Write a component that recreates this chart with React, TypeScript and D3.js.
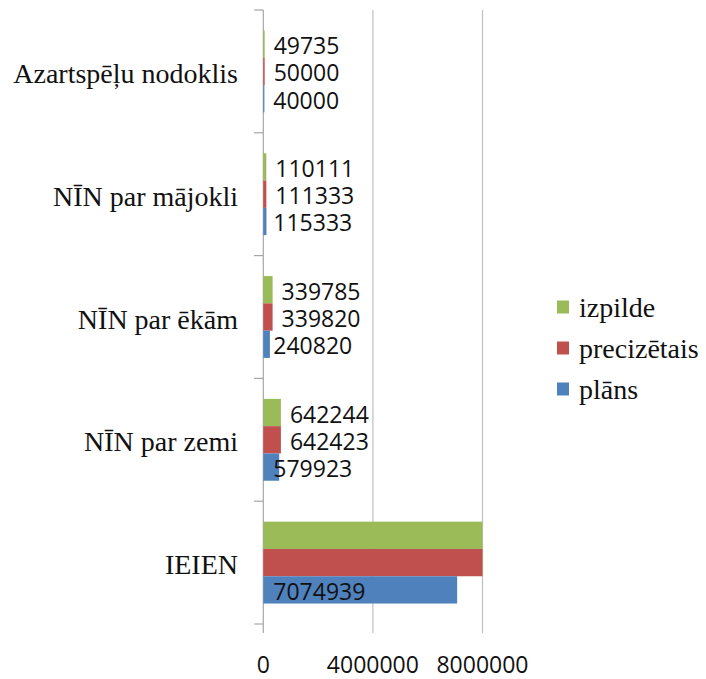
import React from "react";
import * as d3 from "d3";

const categories = ["Azartspēļu nodoklis", "NĪN par mājokli", "NĪN par ēkām", "NĪN par zemi", "IEIEN"];
const seriesNames = ["izpilde", "precizētais", "plāns"];
const izpilde = [49735, 110111, 339785, 642244, 8150000];
const precizetais = [50000, 111333, 339820, 642423, 8200000];
const plans = [40000, 115333, 240820, 579923, 7074939];
const seriesColors = ["#9BBB59", "#C0504D", "#4F81BD"];
const xTicks = [0, 4000000, 8000000];

const W = 706;
const H = 679;

export default function App() {
  const x = d3.scaleLinear().domain([0, 8000000]).range([263.3, 482.5]).clamp(true);
  const y = d3.scaleBand<string>().domain(categories).range([10, 624]).paddingInner(0).paddingOuter(0);
  const inner = d3.scaleBand<string>().domain(seriesNames).range([0, y.bandwidth()]).paddingInner(0).paddingOuter(0.75);
  const values = [izpilde, precizetais, plans];
  const sans = "'Open Sans', 'Noto Sans', sans-serif";
  const serif = "'Liberation Serif', 'DejaVu Serif', serif";
  const boundaries = categories.map((c) => y(c) as number).concat([624]);

  return (
    <svg width={W} height={H} style={{ position: "absolute", left: 0, top: 0, background: "#fff" }}>
      {/* gridlines */}
      {xTicks.map((t) => (
        <line key={"g" + t} x1={x(t)} x2={x(t)} y1={10} y2={633} stroke={t === 0 ? "#a6a6a6" : "#bfbfbf"} strokeWidth={1.2} />
      ))}
      {/* y ticks */}
      {boundaries.map((b, i) => (
        <line key={"yt" + i} x1={254} x2={x(0)} y1={b} y2={b} stroke="#a6a6a6" strokeWidth={1.2} />
      ))}
      {/* bars */}
      {categories.map((c, ci) => (
        <g key={c} transform={`translate(0,${y(c)})`}>
          {seriesNames.map((s, si) => {
            const v = values[si][ci];
            const by = inner(s) as number;
            const bw = inner.bandwidth();
            const xe = x(v);
            const showLabel = v <= 8000000;
            const lx = si === 2 ? x(0) + 10 : xe + 9;
            return (
              <g key={s}>
                <rect x={x(0)} y={by} width={xe - x(0)} height={bw} fill={seriesColors[si]} />
                {showLabel && (
                  <text x={lx} y={by + bw / 2 + 1} dominantBaseline="central" fontFamily={sans} fontSize={23} fill="#111">
                    {v}
                  </text>
                )}
              </g>
            );
          })}
        </g>
      ))}
      {/* category labels */}
      {categories.map((c) => (
        <text key={"cl" + c} x={238} y={(y(c) as number) + y.bandwidth() / 2 + 2} textAnchor="end" dominantBaseline="central" fontFamily={serif} fontSize={28} fill="#111">
          {c}
        </text>
      ))}
      {/* x tick labels */}
      {xTicks.map((t) => (
        <text key={"xl" + t} x={x(t)} y={664} textAnchor="middle" dominantBaseline="central" fontFamily={sans} fontSize={23} fill="#111">
          {t}
        </text>
      ))}
      {/* legend */}
      {seriesNames.map((s, i) => (
        <g key={"lg" + s} transform={`translate(557,${307 + i * 41})`}>
          <rect x={0} y={-6.5} width={12} height={13} fill={seriesColors[i]} />
          <text x={22} y={0} dominantBaseline="central" fontFamily={serif} fontSize={28} fill="#111">
            {s}
          </text>
        </g>
      ))}
    </svg>
  );
}
